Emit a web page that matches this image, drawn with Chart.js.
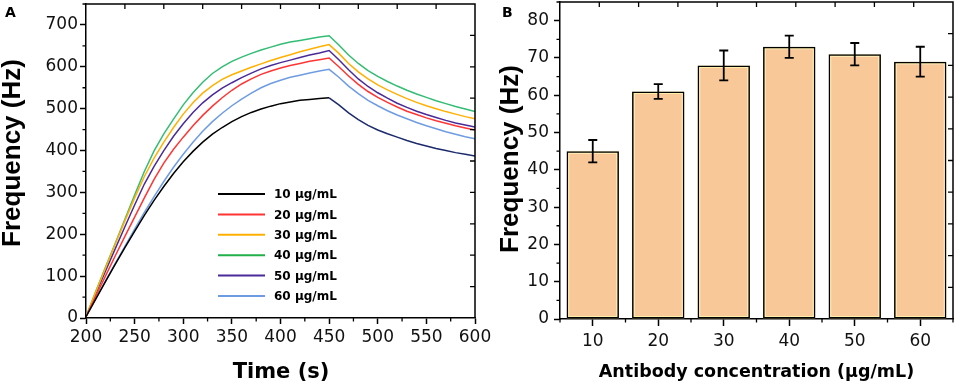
<!DOCTYPE html>
<html><head><meta charset="utf-8">
<script src="https://cdn.jsdelivr.net/npm/chart.js@4.4.1/dist/chart.umd.min.js"></script>
<style>
html,body{margin:0;padding:0;background:#fff;}
#wrap{position:relative;width:957px;height:390px;overflow:hidden;background:#fff;}
#ca{position:absolute;left:0;top:0;}
#cb{position:absolute;left:480px;top:0;}
</style></head><body>
<div id="wrap"><canvas id="ca" width="500" height="390"></canvas><canvas id="cb" width="477" height="390"></canvas></div>
<script>
// ---------- DATA: panel A ----------
const times = [200,210,220,230,240,250,260,270,280,290,300,310,320,330,340,350,360,370,380,390,400,410,420,430,440,450,460,470,480,490,500,510,520,530,540,550,560,570,580,590,600];
const seriesLabels = ['10 µg/mL','20 µg/mL','30 µg/mL','40 µg/mL','50 µg/mL','60 µg/mL'];
const s10 = [3,45,87,128,168,207,245,281,314,345,373,398,420,439,455,469,481,491,499,506,512,516,520,522,524,526,509,490,474,460,449,440,432,424,417,411,405,400,395,391,387];
const s20 = [3,52,100,148,195,241,287,331,370,403,432,459,484,506,526,544,559,571,582,590,597,603,608,613,617,621,600,578,558,541,527,515,504,494,486,478,471,465,459,454,449];
const s30 = [3,62,119,176,232,287,338,382,420,455,487,514,537,555,570,581,590,599,607,615,622,629,636,642,648,653,632,608,588,571,557,545,534,524,515,507,500,493,487,481,476];
const s40 = [3,63,121,178,236,294,350,399,440,475,509,538,563,584,600,613,623,632,640,647,654,659,663,667,671,674,652,628,608,591,577,565,554,544,535,527,519,512,505,499,493];
const s50 = [3,58,112,165,218,270,320,362,400,434,464,491,514,533,549,562,574,585,595,603,610,616,622,628,633,639,617,593,571,553,538,525,513,503,494,486,479,472,466,461,456];
const s60 = [3,46,88,130,171,212,252,290,326,360,391,420,446,469,489,507,523,537,550,560,568,575,580,585,590,594,575,554,536,520,507,495,485,476,467,459,452,445,439,433,428];
const xTicksA = [200,250,300,350,400,450,500,550,600];
const xMinorA = [225,275,325,375,425,475,525,575];
const yTicksA = [0,100,200,300,400,500,600,700];
const yMinorA = [50,150,250,350,450,550,650,750];

// ---------- DATA: panel B ----------
const concentrations = ['10','20','30','40','50','60'];
const freqB = [45,61,68,73,71,69];
const errB = [3,2,4,3,3,4];
const yTicksB = [0,10,20,30,40,50,60,70,80];
const yMinorB = [5,15,25,35,45,55,65,75,85];
const xMinorB = [-0.5,0.5,1.5,2.5,3.5,4.5,5.5];

Chart.defaults.font.family = 'DejaVu Sans';
Chart.defaults.color = '#111';

const framePlugin = {
  id: 'frame',
  afterDraw(chart, args, o) {
    const {ctx, chartArea: a, scales} = chart;
    ctx.save();
    ctx.strokeStyle = '#000';
    ctx.lineWidth = 1.5;
    ctx.beginPath();
    ctx.moveTo(a.left, a.top); ctx.lineTo(a.right, a.top); ctx.lineTo(a.right, a.bottom);
    ctx.stroke();
    ctx.lineWidth = 1.3;
    ctx.beginPath();
    for (let k = 1; k < 10; k++) {
      const x = a.left + (a.right - a.left) * k / 10;
      ctx.moveTo(x, a.top); ctx.lineTo(x, a.top + 5);
      const y = a.top + (a.bottom - a.top) * k / 10;
      ctx.moveTo(a.right, y); ctx.lineTo(a.right - 5, y);
    }
    (o.xMinor || []).forEach(v => { const x = scales.x.getPixelForValue(v); ctx.moveTo(x, a.bottom); ctx.lineTo(x, a.bottom + 3.5); });
    (o.yMinor || []).forEach(v => { const y = scales.y.getPixelForValue(v); ctx.moveTo(a.left, y); ctx.lineTo(a.left - 3.5, y); });
    ctx.stroke();
    ctx.restore();
  }
};

const textPlugin = {
  id: 'texts',
  afterDraw(chart, args, o) {
    const ctx = chart.ctx;
    ctx.save();
    ctx.fillStyle = '#000';
    ctx.textAlign = 'left'; ctx.textBaseline = 'alphabetic';
    ctx.font = 'bold 14px "DejaVu Sans"';
    ctx.fillText(o.panel, o.panelX, o.panelY);
    ctx.textAlign = 'center';
    ctx.font = 'bold ' + o.xTitleSize + 'px "DejaVu Sans"';
    ctx.fillText(o.xTitle, o.xTitleX, o.xTitleY);
    ctx.translate(o.yTitleX, o.yTitleY);
    ctx.rotate(-Math.PI / 2);
    ctx.textBaseline = 'middle';
    ctx.font = 'bold 26px "Liberation Sans"';
    ctx.fillText(o.yTitle, 0, 0);
    ctx.restore();
  }
};

const legendPlugin = {
  id: 'inlegend',
  afterDraw(chart, args, o) {
    if (!o.show) return;
    const ctx = chart.ctx;
    ctx.save();
    ctx.font = 'bold 12px "DejaVu Sans"';
    ctx.textBaseline = 'middle'; ctx.textAlign = 'left';
    chart.data.datasets.forEach((ds, i) => {
      const y = o.y0 + i * o.dy;
      ctx.strokeStyle = ds.legendColor || ds.borderColor;
      ctx.lineWidth = 2;
      ctx.beginPath(); ctx.moveTo(o.x0, y); ctx.lineTo(o.x1, y); ctx.stroke();
      ctx.fillStyle = '#000';
      ctx.fillText(ds.label, o.tx, y + 1);
    });
    ctx.restore();
  }
};

const errPlugin = {
  id: 'errbars',
  afterDatasetsDraw(chart, args, o) {
    if (!o.errors) return;
    const {ctx, scales} = chart;
    ctx.save();
    ctx.strokeStyle = '#000'; ctx.lineWidth = 1.8;
    o.values.forEach((v, i) => {
      const x = scales.x.getPixelForValue(i);
      const yt = scales.y.getPixelForValue(v + o.errors[i]);
      const yb = scales.y.getPixelForValue(v - o.errors[i]);
      ctx.beginPath();
      ctx.moveTo(x, yt); ctx.lineTo(x, yb);
      ctx.moveTo(x - 4.5, yt); ctx.lineTo(x + 4.5, yt);
      ctx.moveTo(x - 4.5, yb); ctx.lineTo(x + 4.5, yb);
      ctx.stroke();
    });
    ctx.restore();
  }
};

function axisCommon(extra) {
  return Object.assign({
    grid: { display: true, drawOnChartArea: false, drawTicks: true, tickLength: 6, tickWidth: 1.5, tickColor: '#000' },
    border: { display: true, color: '#000', width: 1.5 },
  }, extra);
}

// ---------- Chart A ----------
const colorsA = ['#000000', '#FF3434', '#FFB000', '#33BD74', '#4A2A98', '#6E9CE2'];
const seriesA = [s10, s20, s30, s40, s50, s60];
const dsA = seriesA.map((arr, i) => ({
  label: seriesLabels[i],
  data: arr.map((v, j) => ({ x: times[j], y: v })),
  borderColor: colorsA[i],
  borderWidth: 1.5,
  pointRadius: 0,
  tension: 0,
  fill: false,
}));
dsA[0].segment = { borderColor: c => (c.p0.parsed.x >= 450 ? '#1B2A6B' : undefined) };
dsA[3].legendColor = '#22B04A';

new Chart(document.getElementById('ca'), {
  type: 'line',
  data: { datasets: dsA },
  options: {
    responsive: false, animation: false, devicePixelRatio: 1,
    layout: { padding: { left: 0, top: 4, right: 25, bottom: 0 } },
    plugins: {
      legend: { display: false }, tooltip: { enabled: false },
      frame: { xMinor: xMinorA, yMinor: yMinorA },
      texts: { panel: 'A', panelX: 5, panelY: 17, xTitle: 'Time (s)', xTitleSize: 21, xTitleX: 281, xTitleY: 378, yTitle: 'Frequency (Hz)', yTitleX: 13, yTitleY: 153 },
      inlegend: { show: true, x0: 218, x1: 265, tx: 274, y0: 194, dy: 20.4 },
    },
    scales: {
      x: axisCommon({
        type: 'linear', min: 200, max: 600,
        afterBuildTicks: s => { s.ticks = xTicksA.map(v => ({ value: v })); },
        afterFit: s => { s.height = 72; s.paddingLeft = 0; s.paddingRight = 0; },
        ticks: { font: { size: 17 }, padding: 3, maxRotation: 0, autoSkip: false, color: '#111' },
      }),
      y: axisCommon({
        type: 'linear', min: 0, max: 750,
        afterBuildTicks: s => { s.ticks = yTicksA.map(v => ({ value: v })); },
        afterFit: s => { s.width = 86; s.paddingTop = 0; s.paddingBottom = 0; },
        ticks: { font: { size: 17 }, padding: 2, color: '#111' },
      }),
    },
  },
  plugins: [framePlugin, textPlugin, legendPlugin],
});

// ---------- Chart B ----------
new Chart(document.getElementById('cb'), {
  type: 'bar',
  data: {
    labels: concentrations,
    datasets: [
      { label: 'outline', data: freqB, backgroundColor: 'rgba(0,0,0,0)', borderColor: '#000', borderWidth: 1.5, borderSkipped: false, grouped: false, barPercentage: 0.8, categoryPercentage: 1 },
      { label: 'Frequency', data: freqB, backgroundColor: '#F9C898', borderColor: '#FFEFA8', borderWidth: 2.6, borderSkipped: false, grouped: false, barPercentage: 0.8, categoryPercentage: 1 },
    ],
  },
  options: {
    responsive: false, animation: false, devicePixelRatio: 1,
    layout: { padding: { left: 0, top: 2, right: 4, bottom: 0 } },
    plugins: {
      legend: { display: false }, tooltip: { enabled: false },
      frame: { xMinor: xMinorB, yMinor: yMinorB },
      texts: { panel: 'B', panelX: 22, panelY: 17, xTitle: 'Antibody concentration (µg/mL)', xTitleSize: 17.5, xTitleX: 276.5, xTitleY: 377, yTitle: 'Frequency (Hz)', yTitleX: 31, yTitleY: 159 },
      errbars: { values: freqB, errors: errB },
    },
    scales: {
      x: axisCommon({
        type: 'category', offset: true,
        grid: { display: true, drawOnChartArea: false, drawTicks: true, tickLength: 7, tickWidth: 1.5, tickColor: '#000', offset: false },
        afterFit: s => { s.height = 71; s.paddingLeft = 0; s.paddingRight = 0; },
        ticks: { font: { size: 17 }, padding: 5, maxRotation: 0, autoSkip: false, color: '#111' },
      }),
      y: axisCommon({
        type: 'linear', min: 0, max: 85,
        afterBuildTicks: s => { s.ticks = yTicksB.map(v => ({ value: v })); },
        afterFit: s => { s.width = 80; s.paddingTop = 0; s.paddingBottom = 0; },
        ticks: { font: { size: 17 }, padding: 5, color: '#111' },
      }),
    },
  },
  plugins: [framePlugin, textPlugin, errPlugin],
});
</script>
</body></html>
